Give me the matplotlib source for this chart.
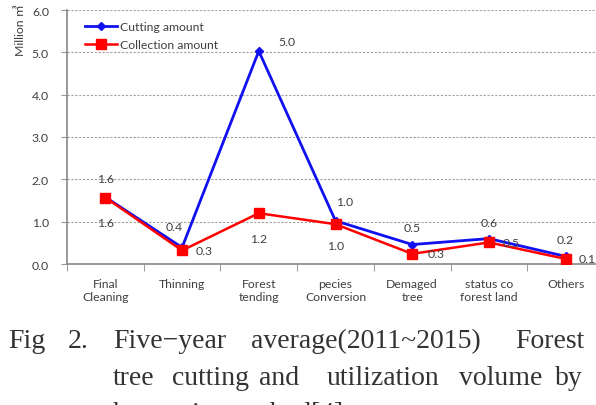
import matplotlib
matplotlib.use("Agg")
import matplotlib.pyplot as plt

categories = ["Final\nCleaning", "Thinning", "Forest\ntending", "pecies\nConversion",
              "Demaged\ntree", "status co\nforest land", "Others"]
cutting = [1.58, 0.39, 5.03, 1.02, 0.46, 0.60, 0.18]
collection = [1.57, 0.32, 1.20, 0.94, 0.24, 0.51, 0.12]
cutting_labels = ["1.6", "0.4", "5.0", "1.0", "0.5", "0.6", "0.2"]
collection_labels = ["1.6", "0.3", "1.2", "1.0", "0.3", "0.5", "0.1"]
yticks = [0.0, 1.0, 2.0, 3.0, 4.0, 5.0, 6.0]

W, H = 596, 406
fig = plt.figure(figsize=(W / 100, H / 100), dpi=100)
FONT = ["Lato", "DejaVu Sans"]
TXT = "#404040"
FS = 8.8

left, right, bottom, top = 67, 604, 265, 11
ax = fig.add_axes([left / W, 1 - bottom / H, (right - left) / W, (bottom - top) / H])

x = list(range(len(categories)))
ax.plot(x, cutting, color="#1010F0", lw=2.0, marker="D", ms=4.5, label="Cutting amount", zorder=3)
ax.plot(x, collection, color="#FF0000", lw=1.8, marker="s", ms=7.5, label="Collection amount", zorder=4)

ax.set_xlim(-0.5, len(categories) - 0.5)
ax.set_ylim(0, 6)
ax.set_yticks(yticks)
ax.set_yticklabels([f"{v:.1f}" for v in yticks], fontsize=FS, family=FONT, color=TXT)
ax.set_xticks(x)
ax.set_xticklabels(categories, fontsize=FS, family=FONT, color=TXT, linespacing=1.25)
ax.set_xticks([i + 0.5 for i in range(-1, len(categories))], minor=True)
ax.tick_params(axis="x", which="major", length=0, pad=10)
ax.tick_params(axis="x", which="minor", length=5, color="#888888", direction="out")
ax.tick_params(axis="y", length=4, color="#999999", pad=9)
ax.yaxis.grid(True, color="#A0A0A0", lw=0.8, ls=(0, (2, 1.5)))
ax.set_axisbelow(True)
for s in ["top", "right"]:
    ax.spines[s].set_visible(False)
for s in ["left", "bottom"]:
    ax.spines[s].set_color("#888888")
    ax.spines[s].set_linewidth(1.2)

cut_off = [(0, 19), (-8, 21), (28, 10), (9, 19), (0, 17), (0, 16), (0, 17)]
col_off = [(0, -25), (22, 0), (0, -25), (0, -21), (24, 0), (22, 0), (22, 0)]
for i in x:
    ax.annotate(cutting_labels[i], (i, cutting[i]), xytext=cut_off[i], textcoords="offset pixels",
                ha="center", va="center", fontsize=FS, family=FONT, color=TXT, zorder=5)
    ax.annotate(collection_labels[i], (i, collection[i]), xytext=col_off[i], textcoords="offset pixels",
                ha="center", va="center", fontsize=FS, family=FONT, color=TXT, zorder=5)

ax.legend(loc="upper left", bbox_to_anchor=(85 / W, 1 - 22 / H), bbox_transform=fig.transFigure,
          frameon=False, borderpad=0, borderaxespad=0, handlelength=2.6, handletextpad=0.3,
          labelspacing=0.6, prop={"family": FONT, "size": FS}, labelcolor=TXT)

fig.text(20 / W, 1 - 30 / H, "Million ㎥", rotation=90, ha="center", va="center",
         fontsize=FS, family=["Lato", "Noto Sans CJK KR", "DejaVu Sans"], color=TXT)

SERIF = ["Liberation Serif", "DejaVu Serif"]
cap_color = "#333333"
caption = [
    (348, [(8, "Fig"), (68, "2."), (113, "Five\u2212year"), (251, "average(2011~2015)"), (515, "Forest")]),
    (385, [(113, "tree"), (172, "cutting"), (259, "and"), (327, "utilization"), (459, "volume"), (555, "by")]),
    (421, [(113, "harvesting"), (228, "method[4]")]),
]
for yb, words in caption:
    for xw, w in words:
        fig.text(xw / W, 1 - yb / H, w, ha="left", va="baseline", fontsize=20,
                 family=SERIF, color=cap_color)

fig.savefig("out.png", dpi=100)
